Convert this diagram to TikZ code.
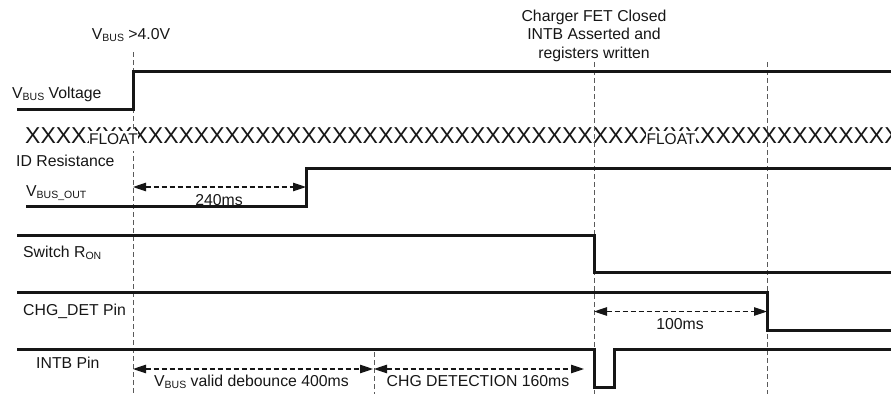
\documentclass[tikz,border=0pt]{standalone}
\usepackage{fontspec}
\setmainfont{Liberation Sans}
\usetikzlibrary{arrows.meta,positioning}
\definecolor{TimDark}{HTML}{161616}
\definecolor{TimGray}{HTML}{5A5A5A}
\newcommand{\sigsub}[1]{\raisebox{-2pt}{\fontsize{10.5}{10.5}\selectfont #1}}
\tikzset{
  siglabel/.style={anchor=base west,inner sep=0pt,font=\fontsize{15.8}{18.5}\selectfont,text=TimDark},
  dimlabel/.style={anchor=base,inner sep=0pt,font=\fontsize{15.8}{18.5}\selectfont,text=TimDark},
  sigline/.style={line width=3pt,draw=TimDark,line join=miter},
  markline/.style={line width=0.9pt,draw=TimGray,dash pattern=on 5pt off 3pt},
  dimarrow/.style={{Triangle[length=13pt,width=8.5pt]}-{Triangle[length=13pt,width=8.5pt]},line width=1.1pt,draw=TimDark,dash pattern=on 5pt off 3pt},
  floatbox/.style={fill=white,inner xsep=0.5pt,inner ysep=2pt,text depth=5pt,font=\fontsize{15.5}{18}\selectfont,anchor=base,text=TimDark}
}

\begin{document}
\begin{tikzpicture}[x=1pt,y=-1pt]
\useasboundingbox (0,0) rectangle (891,394);

% Event labels on top
\node[dimlabel] (vbusok) at (131,39) {V\sigsub{BUS} >4.0V};
\node[dimlabel,anchor=south,align=center] (fetok) at (594,61.5) {Charger FET Closed\\INTB Asserted and\\registers written};

% ID resistance row
\begin{scope}
\clip (0,0) rectangle (891,394);
\node[anchor=base west,inner sep=0pt,font=\fontsize{23}{23}\selectfont,text=TimDark] (idrow) at (25,143)
  {XXXXXXXXXXXXXXXXXXXXXXXXXXXXXXXXXXXXXXXXXXXXXXXXXXXXXXXXX};
\end{scope}

% Event markers
\draw[markline] (133,52) -- (133,394);
\draw[markline] (374,352) -- (374,394);
\draw[markline] (594,62) -- (594,394);
\draw[markline] (767,62) -- (767,394);

\node[floatbox] (float1) at (113.5,144) {FLOAT};
\node[floatbox] (float2) at (671,144) {FLOAT};

% Signal names
\node[siglabel] (lvbus) at (12,98) {V\sigsub{BUS} Voltage};
\node[siglabel] (lid) at (16,166) {ID Resistance};
\node[siglabel] (lout) at (26,196) {V\sigsub{BUS\_OUT}};
\node[siglabel] (lsw) at (23,257) {Switch R\sigsub{ON}};
\node[siglabel] (lchg) at (23,315) {CHG\_DET Pin};
\node[siglabel] (lint) at (36,368) {INTB Pin};

% Waveforms
\draw[sigline] (17,109) -- (133,109) -- (133,71) -- (891,71);
\draw[sigline] (26,206) -- (306,206) -- (306,168) -- (891,168);
\draw[sigline] (17,235) -- (594,235) -- (594,272) -- (891,272);
\draw[sigline] (17,292) -- (767,292) -- (767,330) -- (891,330);
\draw[sigline] (17,349) -- (594,349) -- (594,387) -- (614,387) -- (614,349) -- (891,349);

% Timing intervals
\coordinate (outA) at (133,187);
\coordinate (outB) at (306,187);
\coordinate (chgA) at (594,311.5);
\coordinate (chgB) at (767,311.5);
\coordinate (debA) at (133,369);
\coordinate (debB) at (373,369);
\coordinate (detA) at (374,369);
\coordinate (detB) at (584,369);
\draw[dimarrow] (outA) -- (outB);
\draw[dimarrow] (chgA) -- (chgB);
\draw[dimarrow] (debA) -- (debB);
\draw[dimarrow] (detA) -- (detB);
\node[dimlabel] (t240) at (219,205) {240ms};
\node[dimlabel] (t100) at (680,329) {100ms};
\node[dimlabel] (tdeb) at (251.5,386) {V\sigsub{BUS} valid debounce 400ms};
\node[dimlabel] (tdet) at (478,386) {CHG DETECTION 160ms};
\end{tikzpicture}
\end{document}
